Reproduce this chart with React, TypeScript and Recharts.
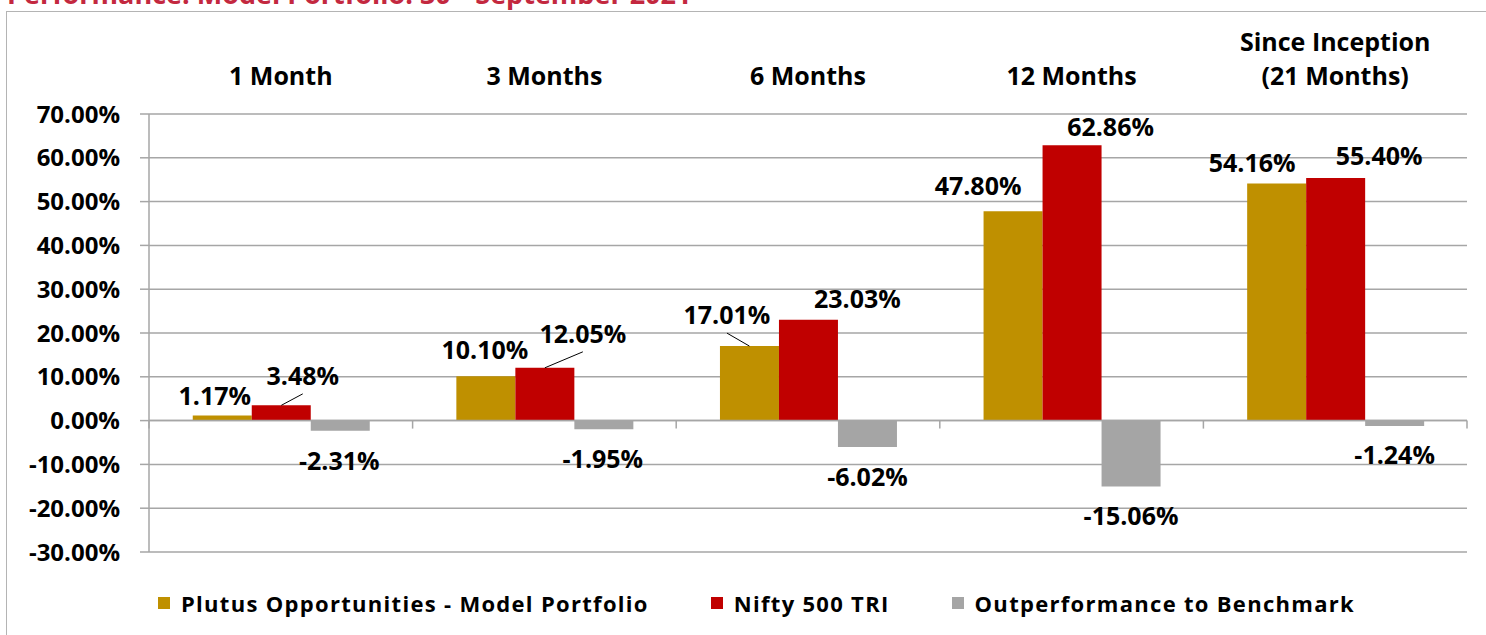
import React from 'react';
import {
  BarChart,
  Bar,
  XAxis,
  YAxis,
  CartesianGrid,
  ReferenceLine,
  Legend,
  LabelList,
} from 'recharts';

const categories = ['1 Month', '3 Months', '6 Months', '12 Months', 'Since Inception\n(21 Months)'];
const portfolio = [1.17, 10.1, 17.01, 47.8, 54.16];
const nifty = [3.48, 12.05, 23.03, 62.86, 55.4];
const outperformance = [-2.31, -1.95, -6.02, -15.06, -1.24];
const yTicks = [-30, -20, -10, 0, 10, 20, 30, 40, 50, 60, 70];

const seriesNames = [
  'Plutus Opportunities - Model Portfolio',
  'Nifty 500 TRI',
  'Outperformance to Benchmark',
];

// label nudges [dx, distance from bar end] - excel had them dragged around by hand
const portfolioNudge = [[-7.5, 20], [-1, 27], [-22.5, 32], [-35, 26], [-24.5, 21]];
const niftyNudge = [[21.5, 30.5], [38, 35], [49, 22], [38.5, 19], [43.5, 22.5]];
const outNudge = [[-1, 29], [-1, 29], [0, 29.5], [0, 28], [0, 28]];

const GOLD = '#BF9000';
const RED = '#C00000';
const GREY = '#A5A5A5';
const GRID = '#A6A6A6';
const FONT = '"Open Sans", Lato, sans-serif';

const data = categories.map((name, i) => ({
  name,
  portfolio: portfolio[i],
  nifty: nifty[i],
  out: outperformance[i],
}));

const fmt = (v: number) => `${v.toFixed(2)}%`;

const makeLabel = (nudges: number[][], above: boolean, leaders: number[]) => (props: any) => {
  const vb = props.viewBox || props;
  const x = vb.x;
  const w = vb.width;
  const top = Math.min(vb.y, vb.y + vb.height);
  const bottom = Math.max(vb.y, vb.y + vb.height);
  const i = props.index;
  const [dx, d] = nudges[i];
  const cx = x + w / 2;
  const ty = above ? top - d : bottom + d;
  return (
    <g>
      {leaders.includes(i) && (
        <line x1={cx} y1={top} x2={cx + dx} y2={ty + 19} stroke="#000" strokeWidth={1} />
      )}
      <text
        x={cx + dx}
        y={ty}
        textAnchor="middle"
        dominantBaseline="central"
        fontFamily={FONT}
        fontWeight={700}
        fontSize={25}
        fill="#000"
      >
        {fmt(Number(props.value))}
      </text>
    </g>
  );
};

const CategoryTick = (props: any) => {
  const { x, y, payload } = props;
  const lines = String(payload.value).split('\n');
  const n = lines.length;
  return (
    <g>
      {lines.map((ln, k) => (
        <text
          key={k}
          x={x}
          y={y - 21 - (n - 1 - k) * 34}
          textAnchor="middle"
          fontFamily={FONT}
          fontWeight={700}
          fontSize={25}
          fill="#000"
        >
          {ln}
        </text>
      ))}
    </g>
  );
};

// zero line with the category tick marks hanging below it
const ZeroAxis = (props: any) => {
  const { x1, x2, y1 } = props;
  const step = (x2 - x1) / categories.length;
  const ticks = [];
  for (let k = 0; k <= categories.length; k++) ticks.push(x1 + k * step);
  return (
    <g>
      <line x1={x1} x2={x2} y1={y1} y2={y1} stroke={GRID} strokeWidth={1.5} />
      {ticks.map((tx, k) => (
        <line key={k} x1={tx} x2={tx} y1={y1} y2={y1 + 8} stroke={GRID} strokeWidth={1.5} />
      ))}
    </g>
  );
};

const LegendBox = () => {
  const cols = [GOLD, RED, GREY];
  return (
    <div
      style={{
        display: 'flex',
        justifyContent: 'center',
        alignItems: 'center',
        gap: 62,
        paddingLeft: 27,
      }}
    >
      {seriesNames.map((s, i) => (
        <div key={s} style={{ display: 'flex', alignItems: 'center' }}>
          <span style={{ width: 12, height: 12, background: cols[i], display: 'inline-block', marginRight: 11 }} />
          <span style={{ fontFamily: FONT, fontWeight: 700, fontSize: 22, letterSpacing: 1.3, color: '#000' }}>
            {s}
          </span>
        </div>
      ))}
    </div>
  );
};

export default function App() {
  return (
    <div
      style={{
        position: 'absolute',
        left: 0,
        top: 0,
        width: 1486,
        height: 635,
        overflow: 'hidden',
        background: '#fff',
      }}
    >
      <svg width={1486} height={20} style={{ position: 'absolute', left: 0, top: 0 }}>
        <text x={7} y={4} fontFamily={FONT} fontWeight={700} fontSize={27} fill="#C3283F">
          Performance: Model Portfolio: 30
          <tspan fontSize={16} dy={-11}>th</tspan>
          <tspan dy={11}> September 2021</tspan>
        </text>
      </svg>
      <div
        style={{
          position: 'absolute',
          left: 6,
          top: 11,
          width: 1600,
          height: 800,
          border: '1.5px solid #B4B4B4',
        }}
      />
      <div style={{ position: 'absolute', left: 0, top: 0 }}>
        <BarChart
          width={1486}
          height={635}
          data={data}
          margin={{ top: 34, right: 19, bottom: 83, left: 0 }}
          barCategoryGap="16.6%"
          barGap={0}
        >
          <CartesianGrid vertical={false} stroke={GRID} strokeWidth={1.5} />
          <XAxis
            dataKey="name"
            orientation="top"
            height={80}
            axisLine={false}
            tickLine={false}
            tick={<CategoryTick />}
            interval={0}
          />
          <YAxis
            width={149}
            domain={[-30, 70]}
            ticks={yTicks}
            tickFormatter={fmt}
            tickSize={9}
            tickMargin={20}
            axisLine={{ stroke: GRID, strokeWidth: 1.5 }}
            tickLine={{ stroke: GRID, strokeWidth: 1.5 }}
            tick={{ fill: '#000', fontFamily: FONT, fontWeight: 700, fontSize: 24 }}
            allowDataOverflow
          />
          <ReferenceLine y={0} shape={<ZeroAxis />} />
          <Bar dataKey="portfolio" name={seriesNames[0]} fill={GOLD} isAnimationActive={false}>
            <LabelList dataKey="portfolio" content={makeLabel(portfolioNudge, true, [2])} />
          </Bar>
          <Bar dataKey="nifty" name={seriesNames[1]} fill={RED} isAnimationActive={false}>
            <LabelList dataKey="nifty" content={makeLabel(niftyNudge, true, [0, 1])} />
          </Bar>
          <Bar dataKey="out" name={seriesNames[2]} fill={GREY} isAnimationActive={false}>
            <LabelList dataKey="out" content={makeLabel(outNudge, false, [])} />
          </Bar>
          <Legend
            verticalAlign="middle"
            align="center"
            layout="horizontal"
            content={<LegendBox />}
            wrapperStyle={{ top: 588, left: 0, width: 1486 }}
          />
        </BarChart>
      </div>
    </div>
  );
}
